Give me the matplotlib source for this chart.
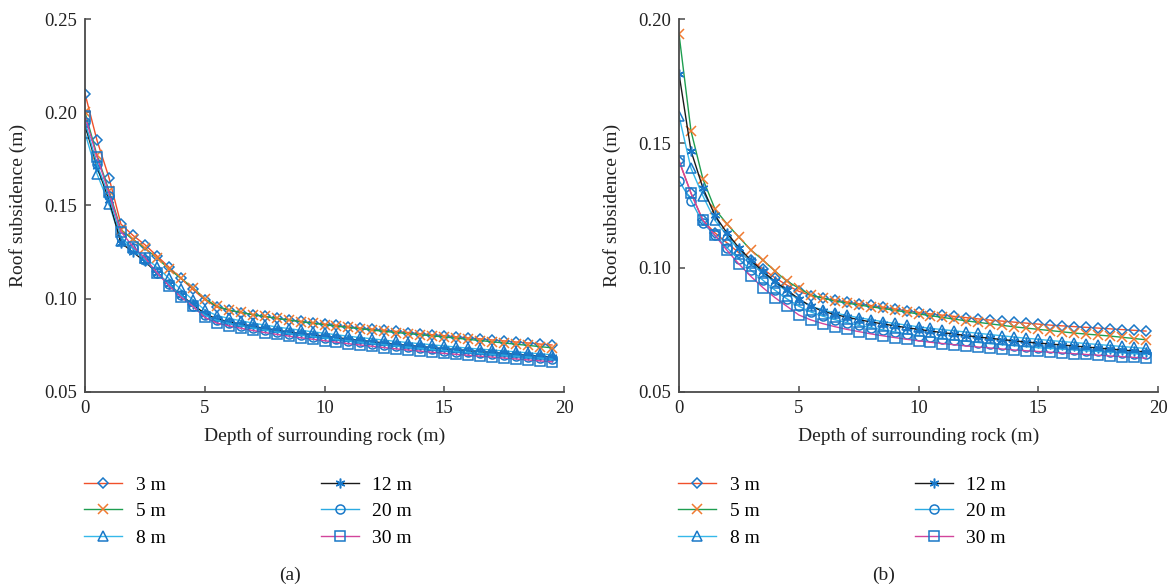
import numpy as np
import matplotlib
matplotlib.use("Agg")
import matplotlib.pyplot as plt

plt.rcParams['font.family'] = ['Liberation Serif', 'DejaVu Serif']

# depth of surrounding rock, every 0.5 m
depth = np.arange(0, 20, 0.5)
labels = ['3 m', '5 m', '8 m', '12 m', '20 m', '30 m']

# (a) roof subsidence
a_3m = [0.210, 0.185, 0.165, 0.140, 0.134, 0.129, 0.123, 0.117, 0.111, 0.105,
        0.0995, 0.0955, 0.0938, 0.0926, 0.0915, 0.0905, 0.0896, 0.0887, 0.0879, 0.0871,
        0.0864, 0.0857, 0.0850, 0.0843, 0.0837, 0.0831, 0.0825, 0.0819, 0.0813, 0.0807,
        0.0802, 0.0796, 0.0790, 0.0785, 0.0779, 0.0774, 0.0768, 0.0763, 0.0757, 0.0752]
a_5m = [0.200, 0.177, 0.158, 0.137, 0.132, 0.127, 0.122, 0.116, 0.111, 0.106,
        0.1000, 0.0960, 0.0940, 0.0927, 0.0915, 0.0905, 0.0895, 0.0886, 0.0877, 0.0869,
        0.0861, 0.0853, 0.0846, 0.0839, 0.0832, 0.0825, 0.0819, 0.0813, 0.0807, 0.0801,
        0.0795, 0.0789, 0.0782, 0.0776, 0.0769, 0.0763, 0.0756, 0.0750, 0.0743, 0.0737]
a_8m = [0.189, 0.167, 0.151, 0.131, 0.127, 0.122, 0.117, 0.111, 0.105, 0.0995,
        0.0940, 0.0910, 0.0895, 0.0882, 0.0870, 0.0859, 0.0849, 0.0840, 0.0831, 0.0823,
        0.0815, 0.0807, 0.0799, 0.0792, 0.0785, 0.0778, 0.0771, 0.0765, 0.0759, 0.0753,
        0.0747, 0.0741, 0.0735, 0.0730, 0.0725, 0.0720, 0.0715, 0.0710, 0.0705, 0.0700]
a_12m = [0.193, 0.171, 0.153, 0.130, 0.125, 0.120, 0.114, 0.108, 0.102, 0.097,
         0.0920, 0.0892, 0.0877, 0.0864, 0.0852, 0.0841, 0.0831, 0.0822, 0.0814, 0.0807,
         0.0800, 0.0792, 0.0784, 0.0777, 0.0770, 0.0763, 0.0756, 0.0750, 0.0744, 0.0738,
         0.0732, 0.0727, 0.0722, 0.0717, 0.0712, 0.0707, 0.0702, 0.0697, 0.0692, 0.0688]
a_20m = [0.195, 0.172, 0.155, 0.133, 0.127, 0.121, 0.114, 0.108, 0.102, 0.096,
         0.0912, 0.0884, 0.0868, 0.0855, 0.0843, 0.0832, 0.0822, 0.0813, 0.0805, 0.0797,
         0.0790, 0.0782, 0.0774, 0.0767, 0.0760, 0.0753, 0.0746, 0.0740, 0.0734, 0.0728,
         0.0722, 0.0717, 0.0712, 0.0707, 0.0702, 0.0697, 0.0692, 0.0687, 0.0682, 0.0676]
a_30m = [0.198, 0.176, 0.157, 0.136, 0.128, 0.122, 0.114, 0.107, 0.101, 0.096,
         0.0900, 0.0870, 0.0855, 0.0842, 0.0830, 0.0819, 0.0809, 0.0800, 0.0791, 0.0783,
         0.0775, 0.0767, 0.0759, 0.0752, 0.0745, 0.0738, 0.0731, 0.0725, 0.0719, 0.0713,
         0.0707, 0.0702, 0.0697, 0.0692, 0.0687, 0.0682, 0.0677, 0.0672, 0.0667, 0.0662]

# (b) roof subsidence
b_3m = [0.143, 0.130, 0.119, 0.114, 0.110, 0.106, 0.103, 0.0995, 0.096, 0.093,
        0.0905, 0.0888, 0.0878, 0.0870, 0.0862, 0.0855, 0.0848, 0.0841, 0.0834, 0.0827,
        0.0820, 0.0814, 0.0809, 0.0804, 0.0799, 0.0794, 0.0789, 0.0785, 0.0781, 0.0777,
        0.0773, 0.0769, 0.0766, 0.0763, 0.0760, 0.0757, 0.0754, 0.0751, 0.0748, 0.0745]
b_5m = [0.194, 0.155, 0.1356, 0.1236, 0.1176, 0.1123, 0.1071, 0.1031, 0.0987, 0.0946,
        0.0918, 0.0890, 0.0878, 0.0866, 0.0858, 0.0850, 0.0843, 0.0836, 0.0829, 0.0821,
        0.0814, 0.0807, 0.0800, 0.0793, 0.0786, 0.0780, 0.0774, 0.0768, 0.0762, 0.0757,
        0.0752, 0.0747, 0.0742, 0.0737, 0.0733, 0.0729, 0.0725, 0.0720, 0.0715, 0.0710]
b_8m = [0.161, 0.140, 0.1288, 0.119, 0.113, 0.107, 0.102, 0.098, 0.094, 0.0905,
        0.0870, 0.0845, 0.0830, 0.0818, 0.0808, 0.0799, 0.0791, 0.0783, 0.0776, 0.0769,
        0.0762, 0.0756, 0.0751, 0.0746, 0.0741, 0.0736, 0.0731, 0.0726, 0.0721, 0.0716,
        0.0712, 0.0707, 0.0703, 0.0699, 0.0695, 0.0691, 0.0687, 0.0683, 0.0679, 0.0675]
b_12m = [0.178, 0.147, 0.132, 0.121, 0.114, 0.108, 0.103, 0.0985, 0.0945, 0.091,
         0.0875, 0.0845, 0.0825, 0.0812, 0.0801, 0.0791, 0.0782, 0.0774, 0.0766, 0.0759,
         0.0752, 0.0745, 0.0739, 0.0733, 0.0727, 0.0721, 0.0716, 0.0711, 0.0706, 0.0701,
         0.0697, 0.0693, 0.0689, 0.0685, 0.0681, 0.0677, 0.0673, 0.0669, 0.0665, 0.0661]
b_20m = [0.135, 0.127, 0.118, 0.113, 0.108, 0.1035, 0.099, 0.095, 0.091, 0.0875,
         0.0845, 0.0822, 0.0805, 0.0791, 0.0779, 0.0768, 0.0759, 0.0750, 0.0742, 0.0734,
         0.0727, 0.0721, 0.0715, 0.0709, 0.0704, 0.0699, 0.0694, 0.0690, 0.0686, 0.0682,
         0.0678, 0.0675, 0.0672, 0.0669, 0.0666, 0.0663, 0.0660, 0.0657, 0.0654, 0.0651]
b_30m = [0.143, 0.130, 0.119, 0.113, 0.107, 0.1015, 0.0965, 0.092, 0.088, 0.0845,
         0.0810, 0.0790, 0.0775, 0.0763, 0.0752, 0.0743, 0.0734, 0.0726, 0.0719, 0.0712,
         0.0706, 0.0700, 0.0695, 0.0690, 0.0685, 0.0681, 0.0677, 0.0673, 0.0669, 0.0666,
         0.0663, 0.0660, 0.0657, 0.0654, 0.0651, 0.0648, 0.0645, 0.0642, 0.0639, 0.0636]

line_colors = ['#f0502a', '#1e9e50', '#35b8ea', '#1a1a1a', '#2aaae2', '#d2449c']
marker_colors = ['#1a78c8', '#f07a30', '#1a78c8', '#1a78c8', '#1a78c8', '#1a78c8']
markers = ['D', 'x', '^', (6, 2, 0), 'o', 's']
marker_sizes = [5.5, 7, 6.5, 7, 6.5, 6.5]


def draw_panel(ax, series, ymax, tag, legend_x):
    for i, vals in enumerate(series):
        ax.plot(depth, vals, color=line_colors[i], lw=1.0,
                marker=markers[i], ms=marker_sizes[i], mfc='none',
                mec=marker_colors[i], mew=1.1, label=labels[i])
    ax.set_xlim(0, 20)
    ax.set_ylim(0.05, ymax)
    ax.set_xticks([0, 5, 10, 15, 20])
    ax.set_yticks(np.arange(0.05, ymax + 0.001, 0.05))
    ax.yaxis.set_major_formatter(matplotlib.ticker.FormatStrFormatter('%.2f'))
    for side in ['top', 'right']:
        ax.spines[side].set_visible(False)
    for side in ['left', 'bottom']:
        ax.spines[side].set_color('#4a4a4a')
        ax.spines[side].set_linewidth(1.3)
    ax.tick_params(direction='in', length=4, width=1.1, color='#4a4a4a',
                   labelsize=13.5, labelcolor='#222222', pad=6)
    ax.set_xlabel('Depth of surrounding rock (m)', fontsize=14, color='#222222')
    ax.set_ylabel('Roof subsidence (m)', fontsize=14, color='#222222')
    ax.xaxis.set_label_coords(0.5, -0.095)
    ax.yaxis.set_label_coords(-0.122, 0.5)
    fig.legend(handles=ax.get_lines(), ncol=2, loc='upper left',
               bbox_to_anchor=(legend_x, 0.19), frameon=False, fontsize=14,
               handlelength=1.95, handletextpad=0.7, columnspacing=8.0,
               labelspacing=0.45, borderpad=0, borderaxespad=0)
    fig.text(ax.get_position().x0 + 205 / 1175, 1 - 575 / 588, tag,
             ha='center', va='center', fontsize=14, color='#222222')


fig = plt.figure(figsize=(11.75, 5.88), dpi=100)
ax_a = fig.add_axes([85 / 1175, 1 - 392 / 588, 479 / 1175, 373 / 588])
ax_b = fig.add_axes([679 / 1175, 1 - 392 / 588, 479 / 1175, 373 / 588])

draw_panel(ax_a, [a_3m, a_5m, a_8m, a_12m, a_20m, a_30m], 0.25, '(a)', 84 / 1175)
draw_panel(ax_b, [b_3m, b_5m, b_8m, b_12m, b_20m, b_30m], 0.20, '(b)', 678 / 1175)

fig.savefig('out.png', dpi=100)
